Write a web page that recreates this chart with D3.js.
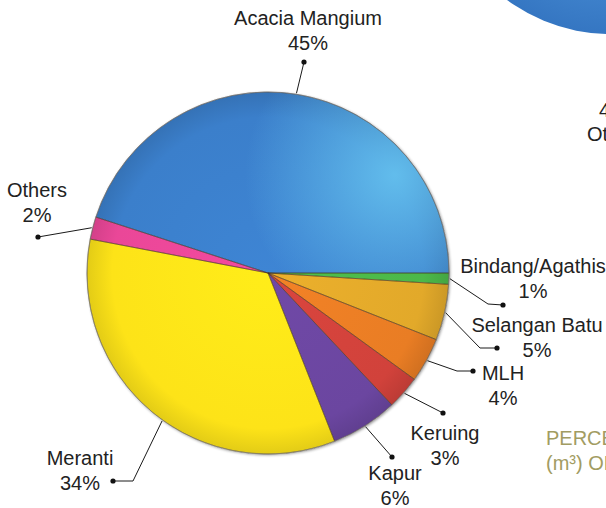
<!DOCTYPE html>
<html><head><meta charset="utf-8">
<script src="https://cdn.jsdelivr.net/npm/d3@7/dist/d3.min.js"></script>
<style>
html,body{margin:0;padding:0;background:#fff;}
svg{display:block;}
text{font-family:"Liberation Sans",Arial,sans-serif;}
</style></head>
<body>
<svg id="chart" width="606" height="508"></svg>
<script>
// ---- data ----
const categories = ["Bindang/Agathis","Selangan Batu","MLH","Keruing","Kapur","Meranti","Others","Acacia Mangium"];
const values = [1,5,4,3,6,34,2,45];
const percentLabels = ["1%","5%","4%","3%","6%","34%","2%","45%"];
const colors = ["#4cb849","#e2a92a","#e97d24","#d1423b","#6b46a0","#fde318","#ea4798","#3b7fcb"];

// ---- layout (label placement) ----
const labelLayout = [
  {tx:533, ty:273, elbow:[488,304], dot:[503,305]},
  {tx:537, ty:332, elbow:[480,348], dot:[497,348]},
  {tx:503, ty:380, elbow:[457,371], dot:[473,371]},
  {tx:445, ty:440, elbow:null,      dot:[443,413]},
  {tx:395, ty:480, elbow:null,      dot:[392,457]},
  {tx:80,  ty:465, elbow:[133,481], dot:[113,481], angleShift:-4},
  {tx:37,  ty:197, elbow:null,      dot:[38,237]},
  {tx:308, ty:25,  elbow:null,      dot:[304,62]}
];

const svg = d3.select("#chart");
const cx = 268, cy = 273, R = 181;
const defs = svg.append("defs");

// drop shadow
const f = defs.append("filter").attr("id","shadow").attr("x","-10%").attr("y","-10%").attr("width","120%").attr("height","120%");
f.append("feGaussianBlur").attr("in","SourceAlpha").attr("stdDeviation",1.5);
f.append("feOffset").attr("dx",0.5).attr("dy",1).attr("result","b");
f.append("feComponentTransfer").append("feFuncA").attr("type","linear").attr("slope",0.45);
const fm = f.append("feMerge");
fm.append("feMergeNode");
fm.append("feMergeNode").attr("in","SourceGraphic");

// slice gradients (local coords of pie group)
colors.forEach((c,i)=>{
  const g = defs.append("radialGradient").attr("id","slice"+i)
    .attr("gradientUnits","userSpaceOnUse").attr("cx",0).attr("cy",0).attr("r",R);
  const base = d3.color(c);
  g.append("stop").attr("offset","0%").attr("stop-color", base.brighter(0.12));
  g.append("stop").attr("offset","86%").attr("stop-color", base);
  g.append("stop").attr("offset","100%").attr("stop-color", base.darker(0.3));
});
const hlL = defs.append("radialGradient").attr("id","acaciaHL")
  .attr("gradientUnits","userSpaceOnUse").attr("cx",127).attr("cy",-98).attr("r",150);
hlL.append("stop").attr("offset","0%").attr("stop-color","#64c0ee").attr("stop-opacity",0.95);
hlL.append("stop").attr("offset","100%").attr("stop-color","#64c0ee").attr("stop-opacity",0);

// ---- second (cropped) pie at top right ----
const gb = defs.append("radialGradient").attr("id","otherPie")
  .attr("gradientUnits","userSpaceOnUse").attr("cx",610).attr("cy",-139).attr("r",173);
gb.append("stop").attr("offset","80%").attr("stop-color","#3d80ca");
gb.append("stop").attr("offset","100%").attr("stop-color","#3576c2");
svg.append("circle").attr("cx",610).attr("cy",-139).attr("r",173).attr("fill","url(#otherPie)");

// ---- main pie ----
const pie = d3.pie().sort(null).value(d=>d).startAngle(Math.PI/2).endAngle(Math.PI/2 + 2*Math.PI);
const arcs = pie(values);
const arc = d3.arc().innerRadius(0).outerRadius(R);

const pg = svg.append("g").attr("transform",`translate(${cx},${cy})`);
pg.append("g").attr("filter","url(#shadow)").append("circle").attr("r",R).attr("fill","#fff");

pg.selectAll("path.slice").data(arcs).join("path")
  .attr("class","slice")
  .attr("d",arc)
  .attr("fill",(d,i)=>`url(#slice${i})`);
pg.append("path").attr("d",arc(arcs[7])).attr("fill","url(#acaciaHL)");

pg.selectAll("path.edge").data(arcs).join("path")
  .attr("class","edge").attr("d",arc)
  .attr("fill","none").attr("stroke","rgba(70,50,30,0.55)").attr("stroke-width",0.8);
pg.append("circle").attr("r",R).attr("fill","none").attr("stroke","rgba(120,120,120,0.6)").attr("stroke-width",1);

// ---- leader lines and labels ----
const lg = svg.append("g");
arcs.forEach((a,i)=>{
  const L = labelLayout[i];
  const mid = (a.startAngle + a.endAngle)/2 + (L.angleShift||0)*Math.PI/180;
  const p0 = [cx + (R+1)*Math.sin(mid), cy - (R+1)*Math.cos(mid)];
  const pts = [p0];
  if (L.elbow) pts.push(L.elbow);
  pts.push(L.dot);
  lg.append("path").attr("d", d3.line()(pts))
    .attr("fill","none").attr("stroke","#1a1a1a").attr("stroke-width",1);
  lg.append("circle").attr("cx",L.dot[0]).attr("cy",L.dot[1]).attr("r",2.6).attr("fill","#111");
  const t = lg.append("text").attr("x",L.tx).attr("y",L.ty)
    .attr("text-anchor","middle").attr("font-size",20).attr("fill","#222");
  t.append("tspan").attr("x",L.tx).attr("y",L.ty).text(categories[i]);
  t.append("tspan").attr("x",L.tx).attr("y",L.ty+25).text(percentLabels[i]);
});

// ---- cropped texts from neighbouring chart ----
svg.append("text").attr("x",599).attr("y",117).attr("font-size",20).attr("fill","#222").text("4");
svg.append("text").attr("x",587).attr("y",141).attr("font-size",20).attr("fill","#222").text("Others");
svg.append("text").attr("x",546).attr("y",445).attr("font-size",20).attr("fill","#a29c62").text("PERCENTAGE");
svg.append("text").attr("x",546).attr("y",470).attr("font-size",20).attr("fill","#a29c62").text("(m³) OF");
</script>
</body></html>
